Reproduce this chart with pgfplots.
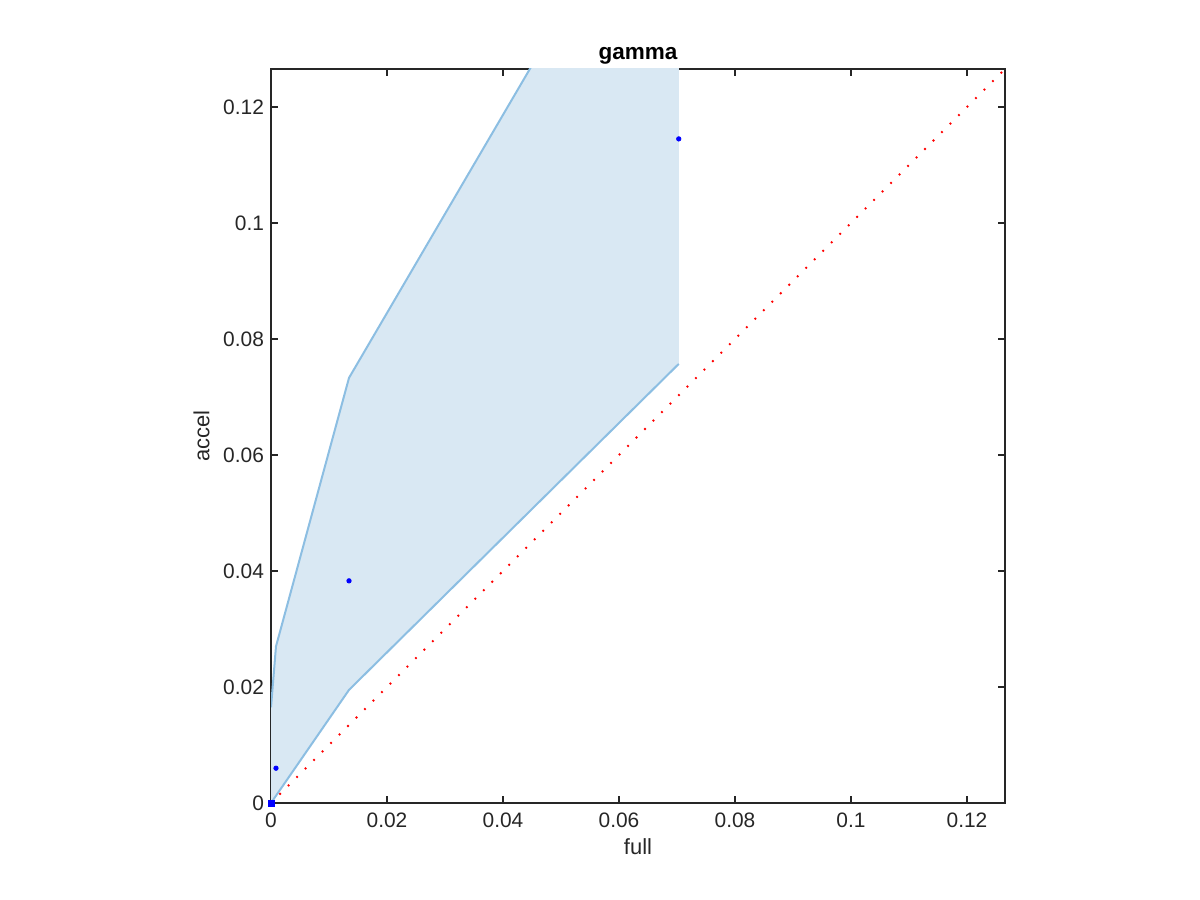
\documentclass[border=0pt]{standalone}
\usepackage{fontspec}
\setmainfont{Liberation Sans}
\usepackage{pgfplots}
\pgfplotsset{compat=1.18}
\definecolor{axgray}{RGB}{38,38,38}
\definecolor{bandfill}{RGB}{217,232,243}
\definecolor{bandedge}{RGB}{140,190,226}
\begin{document}
\begin{tikzpicture}
\path[use as bounding box] (0,0) rectangle (600bp,450bp);
\begin{axis}[
  at={(135.5bp,48.5bp)}, anchor=south west,
  scale only axis, width=367bp, height=367bp,
  xmin=0, xmax=0.12655, ymin=0, ymax=0.12655,
  xtick={0,0.02,0.04,0.06,0.08,0.1,0.12},
  ytick={0,0.02,0.04,0.06,0.08,0.1,0.12},
  xticklabels={0,0.02,0.04,0.06,0.08,0.1,0.12},
  yticklabels={0,0.02,0.04,0.06,0.08,0.1,0.12},
  scaled ticks=false,
  tick align=inside, tick pos=both,
  major tick length=3.5bp,
  axis line style={axgray, line width=0.9bp},
  every tick/.style={axgray, line width=0.8bp},
  tick label style={font=\fontsize{10.5}{12}\selectfont, text=axgray},
  xticklabel style={yshift=-1.5bp},
  label style={font=\fontsize{11}{13}\selectfont, text=axgray},
  title style={font=\fontsize{11.3}{13}\selectfont\bfseries, yshift=-7bp},
  title={gamma},
  xlabel={full}, ylabel={accel},
  xlabel style={yshift=1.5bp},
  ylabel style={yshift=0bp},
  clip=true,
]
% band fill
\addplot[fill=bandfill, draw=none] coordinates {
  (0,0.0165) (0.00086,0.027) (0.01345,0.0733) (0.0703,0.1704)
  (0.0703,0.0757) (0.01345,0.0195) (0.00086,0.00125) (0,0)
};
% upper bound
\addplot[bandedge, line width=1bp] coordinates {
  (0,0.0165) (0.00086,0.027) (0.01345,0.0733) (0.0703,0.1704)
};
% lower bound
\addplot[bandedge, line width=1bp] coordinates {
  (0,0) (0.00086,0.00125) (0.01345,0.0195) (0.0703,0.0757)
};
% diagonal
\addplot[red, line width=1bp, dash pattern=on 0.9bp off 5.1bp] coordinates {
  (0,0) (0.12655,0.12655)
};
% points
\addplot[only marks, mark=*, mark size=1.1bp, blue, mark options={draw=blue, fill=blue}] coordinates {
  (0.00086,0.006) (0.01345,0.0383) (0.0703,0.1145)
};
\addplot[only marks, mark=square*, mark size=1.5bp, blue, mark options={draw=blue, fill=blue}] coordinates {
  (0,0)
};
\end{axis}
\end{tikzpicture}
\end{document}
